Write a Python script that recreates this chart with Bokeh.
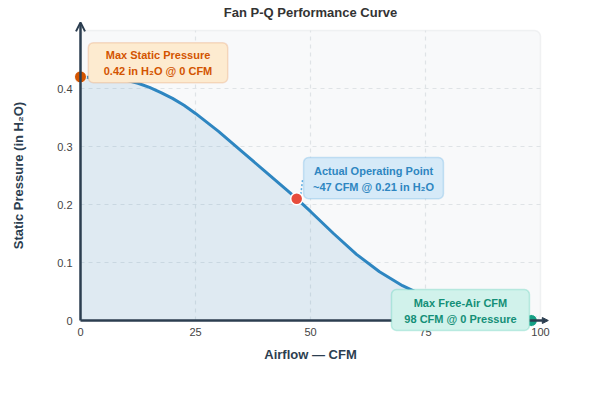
import math
from bokeh.plotting import figure
from bokeh.models import (Range1d, BoxAnnotation, Label, Arrow, OpenHead, NormalHead,
                          ColumnDataSource)
from bokeh.embed import file_html
from bokeh.resources import INLINE

# Fan P-Q curve: airflow (CFM) vs static pressure (in H2O)
airflow = [0, 5, 10, 12.5, 15, 17.5, 20, 22.5, 25, 30, 35, 40, 45, 47, 50, 55, 60, 65,
           70, 75, 80, 85, 90, 95, 98]
pressure = [0.420, 0.418, 0.414, 0.409, 0.402, 0.393, 0.383, 0.371, 0.357, 0.326, 0.292,
            0.258, 0.224, 0.210, 0.188, 0.150, 0.114, 0.084, 0.060, 0.041, 0.026, 0.015,
            0.007, 0.002, 0.0]

# Key points
max_static = (0, 0.42)
operating = (47, 0.21)
free_air = (98, 0)

x_ticks = [0, 25, 50, 75, 100]
y_ticks = [0, 0.1, 0.2, 0.3, 0.4]
y_tick_labels = ["0", "0.1", "0.2", "0.3", "0.4"]
x_max, y_max = 100, 0.5

FONT = "Liberation Sans"
DARK = "#2c3e50"

# The frame covers the whole canvas; the panel, axes and labels are drawn in data space
p = figure(width=600, height=400, output_backend="svg", toolbar_location=None,
           x_range=Range1d(-17.391, 113.043), y_range=Range1d(-0.13793, 0.551724),
           x_axis_location=None, y_axis_location=None,
           min_border=0, min_border_left=0, min_border_right=0,
           min_border_top=0, min_border_bottom=0)
p.outline_line_color = None
p.background_fill_color = "white"
p.border_fill_color = "white"
p.xgrid.visible = False
p.ygrid.visible = False

# plot panel with a rounded outline
p.add_layout(BoxAnnotation(left=0, right=x_max, bottom=0, top=y_max, fill_color="#f8f9fa",
                           fill_alpha=1, line_color="#d5d8dc", line_width=1.5,
                           border_radius=6, level="image"))

# dashed grid
grid_style = dict(line_color="#dfe3e6", line_width=1.2, line_dash="4 4")
gx = x_ticks[1:-1]
p.segment(x0=gx, y0=[0] * len(gx), x1=gx, y1=[y_max] * len(gx), **grid_style)
gy = y_ticks[1:]
p.segment(x0=[0] * len(gy), y0=gy, x1=[x_max] * len(gy), y1=gy, **grid_style)

src = ColumnDataSource(dict(q=airflow, p=pressure))
p.varea(x="q", y1=0, y2="p", source=src, fill_color="#2e86c1", fill_alpha=0.12)
p.line(x="q", y="p", source=src, line_color="#2e86c1", line_width=3)

# axis lines with arrow heads
p.add_layout(Arrow(x_start=0, y_start=0, x_end=0, y_end=0.514, line_color=DARK, line_width=2.5,
                   end=OpenHead(size=9, line_color=DARK, line_width=2)))
p.add_layout(Arrow(x_start=0, y_start=0, x_end=101.7, y_end=0, line_color=DARK, line_width=2.5,
                   end=NormalHead(size=6, fill_color=DARK, line_color=DARK)))

# tick labels
tick_style = dict(text_font=FONT, text_font_size="11px", text_color="#444444",
                  text_baseline="middle")
for t in x_ticks:
    p.add_layout(Label(x=t, y=-0.019, text=str(t), text_align="center", **tick_style))
for t, s in zip(y_ticks, y_tick_labels):
    p.add_layout(Label(x=-1.74, y=t, text=s, text_align="right", **tick_style))

# title and axis titles
head_style = dict(text_font=FONT, text_font_size="13px", text_font_style="bold",
                  text_align="center", text_baseline="middle")
p.add_layout(Label(x=x_max / 2, y=0.531, text="Fan P-Q Performance Curve",
                   text_color="#333333", **head_style))
p.add_layout(Label(x=x_max / 2, y=-0.0586, text="Airflow — CFM", text_color=DARK, **head_style))
p.add_layout(Label(x=-13.48, y=y_max / 2, text="Static Pressure (in H₂O)", angle=math.pi / 2,
                   text_color=DARK, **head_style))

# connector from operating point to its callout
p.segment(x0=[operating[0] + 0.9], y0=[operating[1] + 0.008],
          x1=[operating[0] + 1.3], y1=[operating[1] + 0.034],
          line_color="#5dade2", line_width=1.5, line_dash="2 2")

# key points
p.scatter(x=[max_static[0]], y=[max_static[1]], size=12, fill_color="#d35400", line_color="white", line_width=1)
p.scatter(x=[operating[0]], y=[operating[1]], size=12, fill_color="#e74c3c", line_color="white", line_width=1.5)
p.scatter(x=[free_air[0]], y=[free_air[1]], size=12, fill_color="#16a085", line_color="white", line_width=1)


def callout(left, right, top, bottom, lines, text_color, fill, border):
    p.add_layout(BoxAnnotation(left=left, right=right, top=top, bottom=bottom,
                               fill_color=fill, fill_alpha=1, line_color=border,
                               line_width=1.5, border_radius=5))
    cx = (left + right) / 2
    for y, t in lines:
        p.add_layout(Label(x=cx, y=y, text=t, text_align="center", text_baseline="middle",
                           text_font=FONT, text_font_size="11px", text_font_style="bold",
                           text_color=text_color))


callout(1.7, 32.0, 0.479, 0.410,
        [(0.4586, "Max Static Pressure"), (0.431, "0.42 in H₂O @ 0 CFM")],
        "#d35400", "#fdebd0", "#e59866")
callout(48.5, 78.9, 0.281, 0.210,
        [(0.2586, "Actual Operating Point"), (0.231, "~47 CFM @ 0.21 in H₂O")],
        "#2e86c1", "#d6eaf8", "#5dade2")
callout(67.6, 97.6, 0.0534, -0.0172,
        [(0.031, "Max Free-Air CFM"), (0.0034, "98 CFM @ 0 Pressure")],
        "#148f77", "#d1f2eb", "#48c9b0")

open("out.html", "w").write(file_html(p, INLINE))
